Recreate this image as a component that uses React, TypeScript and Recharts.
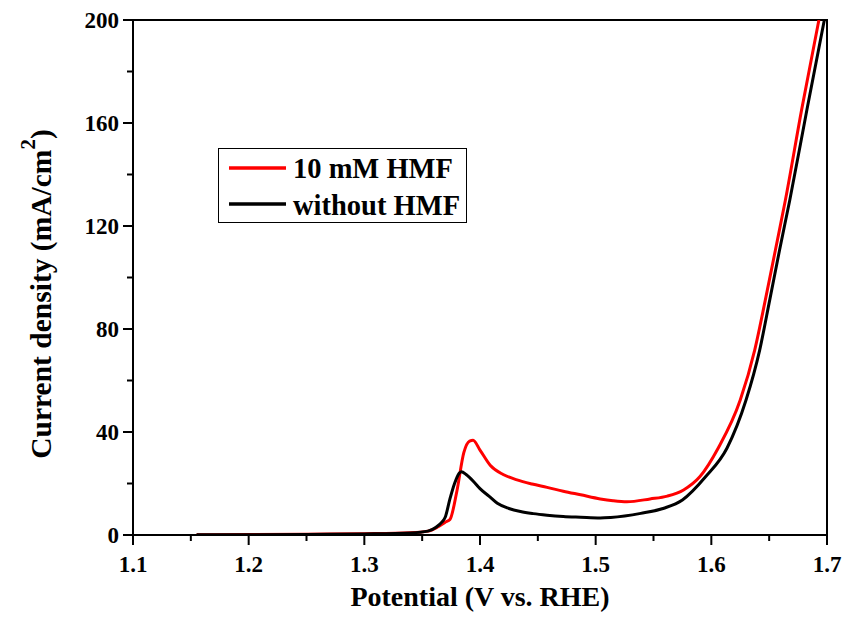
import { LineChart, Line, XAxis, YAxis, ReferenceArea, Legend } from "recharts";

const FONT = "'Liberation Serif', 'Times New Roman', 'DejaVu Serif', serif";

// potential (V vs. RHE)
const hmfPotential = [
  1.155, 1.2, 1.25, 1.3, 1.34, 1.355, 1.363, 1.37, 1.374, 1.38, 1.386, 1.391, 1.394,
  1.4, 1.409, 1.42, 1.432, 1.445, 1.458, 1.472, 1.487, 1.504, 1.515, 1.527, 1.547,
  1.562, 1.576, 1.59, 1.606, 1.625, 1.6375, 1.6467, 1.6554, 1.664, 1.678, 1.693,
];
// current density (mA/cm2)
const hmfCurrent = [
  0.1, 0.2, 0.3, 0.5, 0.9, 1.5, 3, 5, 6, 17, 32, 36.5, 36.8,
  33, 27, 23.5, 21.4, 19.8, 18.5, 17, 15.6, 14, 13.3, 12.9, 14,
  15.1, 17.5, 22.6, 33.8, 52.4, 71.8, 91.3, 110.7, 130, 165, 200,
];

const blankPotential = [
  1.155, 1.2, 1.25, 1.3, 1.34, 1.355, 1.362, 1.367, 1.37, 1.374, 1.378, 1.382, 1.384,
  1.388, 1.395, 1.4, 1.408, 1.415, 1.425, 1.435, 1.446, 1.458, 1.472, 1.487, 1.504,
  1.513, 1.539, 1.559, 1.575, 1.595, 1.6136, 1.63, 1.6418, 1.6505, 1.659, 1.6678, 1.683,
  1.6977,
];
const blankCurrent = [
  0.05, 0.1, 0.2, 0.4, 0.8, 1.5, 3, 5, 7, 14, 20, 24, 24.6,
  23.5, 20.5, 18, 15, 12.3, 10.3, 9.1, 8.3, 7.7, 7.2, 6.9, 6.6,
  6.8, 8.4, 10.4, 13.6, 22.6, 33.8, 52.4, 71.8, 91.3, 110.7, 130, 166,
  200,
];

const xTicks = [1.1, 1.15, 1.2, 1.25, 1.3, 1.35, 1.4, 1.45, 1.5, 1.55, 1.6, 1.65, 1.7];
const yTicks = [0, 20, 40, 60, 80, 100, 120, 140, 160, 180, 200];

const hmfData = hmfPotential.map((v, i) => ({ v, j: hmfCurrent[i] }));
const blankData = blankPotential.map((v, i) => ({ v, j: blankCurrent[i] }));

const txt = { fontFamily: FONT, fontWeight: 700 };

function XTick({ x, y, payload, index }: any) {
  const major = index % 2 === 0;
  return (
    <g>
      <line x1={x} x2={x} y1={y} y2={y + (major ? 10 : 6)} stroke="#000" strokeWidth={2} />
      {major && (
        <text x={x} y={y + 37} textAnchor="middle" style={txt} fontSize={23} fill="#000">
          {payload.value.toFixed(1)}
        </text>
      )}
    </g>
  );
}

function YTick({ x, y, payload, index }: any) {
  const major = index % 2 === 0;
  return (
    <g>
      <line x1={x} x2={x - (major ? 10 : 6)} y1={y} y2={y} stroke="#000" strokeWidth={2} />
      {major && (
        <text x={x - 14} y={y + 8} textAnchor="end" style={txt} fontSize={23} fill="#000">
          {payload.value}
        </text>
      )}
    </g>
  );
}

function LegendBox({ payload }: any) {
  return (
    <svg width={249} height={75} style={{ display: "block" }}>
      <rect x={0.5} y={0.5} width={248} height={74} fill="#fff" stroke="#000" strokeWidth={1} />
      {(payload || []).map((p: any, i: number) => (
        <g key={p.value}>
          <line x1={11} x2={68} y1={20 + i * 36} y2={20 + i * 36} stroke={p.color} strokeWidth={3.5} />
          <text x={75} y={30 + i * 37} style={txt} fontSize={28.5} fill="#000">
            {p.value}
          </text>
        </g>
      ))}
    </svg>
  );
}

export default function App() {
  return (
    <div style={{ position: "absolute", left: 0, top: 0, width: 846, height: 626, background: "#fff" }}>
      <LineChart width={846} height={626} margin={{ top: 20, right: 19, bottom: 0, left: 0 }}>
        <XAxis
          type="number"
          dataKey="v"
          domain={[1.1, 1.7]}
          ticks={xTicks}
          interval={0}
          allowDataOverflow
          height={91}
          tickSize={0}
          tickMargin={0}
          tickLine={false}
          axisLine={{ stroke: "#000", strokeWidth: 2 }}
          tick={<XTick />}
        />
        <YAxis
          type="number"
          dataKey="j"
          domain={[0, 200]}
          ticks={yTicks}
          interval={0}
          allowDataOverflow
          width={133}
          tickSize={0}
          tickMargin={0}
          tickLine={false}
          axisLine={{ stroke: "#000", strokeWidth: 2 }}
          tick={<YTick />}
        />
        <ReferenceArea x1={1.1} x2={1.7} y1={0} y2={200} fill="none" stroke="#000" strokeWidth={2} />
        <Line
          data={hmfData}
          dataKey="j"
          name="10 mM HMF"
          type="monotone"
          stroke="#ff0000"
          strokeWidth={3}
          dot={false}
          isAnimationActive={false}
        />
        <Line
          data={blankData}
          dataKey="j"
          name="without HMF"
          type="monotone"
          stroke="#000000"
          strokeWidth={3}
          dot={false}
          isAnimationActive={false}
        />
        <Legend
          layout="vertical"
          align="center"
          verticalAlign="middle"
          content={<LegendBox />}
          wrapperStyle={{ position: "absolute", left: 218, top: 148, width: 249, height: 75 }}
        />
      </LineChart>
      <svg width={846} height={626} style={{ position: "absolute", left: 0, top: 0, pointerEvents: "none" }}>
        <text x={480} y={606} textAnchor="middle" style={txt} fontSize={28} fill="#000">
          Potential (V vs. RHE)
        </text>
        <text
          x={51}
          y={294}
          transform="rotate(-90 51 294)"
          textAnchor="middle"
          style={txt}
          fontSize={29.5}
          fill="#000"
        >
          Current density (mA/cm
          <tspan dy={-16} fontSize={21}>2</tspan>
          <tspan dy={16}>)</tspan>
        </text>
      </svg>
    </div>
  );
}
